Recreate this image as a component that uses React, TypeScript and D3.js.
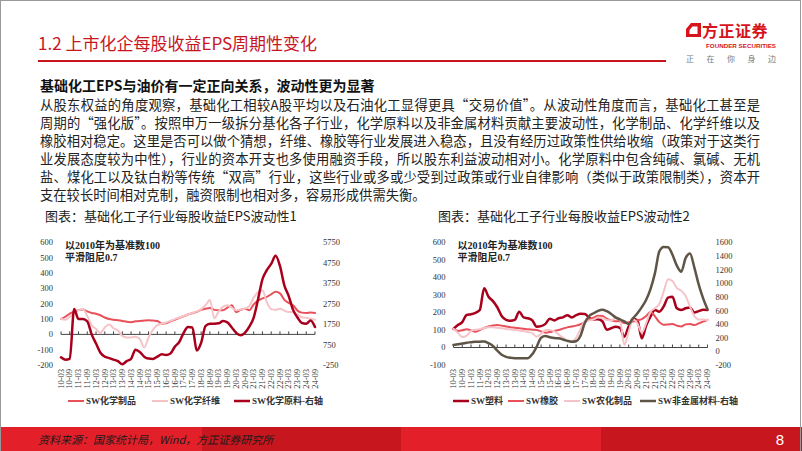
import React from 'react';
import * as d3 from 'd3';

// x tick labels (half-year), data is quarterly from 10-03 to 24-09
const xLabels = [
  '10-03', '10-09', '11-03', '11-09', '12-03', '12-09', '13-03', '13-09', '14-03', '14-09',
  '15-03', '15-09', '16-03', '16-09', '17-03', '17-09', '18-03', '18-09', '19-03', '19-09',
  '20-03', '20-09', '21-03', '21-09', '22-03', '22-09', '23-03', '23-09', '24-03', '24-09',
];

// chart 1
const chemProducts = [
  100, 115, 135, 148, 160, 162, 150, 140, 135, 125,
  110, 100, 95, 92, 88, 82, 80, 85, 88, 90,
  92, 90, 88, 70, 72, 85, 95, 108, 118, 130,
  138, 148, 160, 168, 172, 160, 157, 157, 175, 190,
  145, 160, 168, 158, 195, 220, 235, 245, 262, 278,
  268, 225, 205, 190, 155, 142, 140, 143, 140,
];
const chemFiber = [
  100, 95, 115, 140, 158, 165, 120, 60, 35, 10,
  45, 65, 40, 25, -10, -20, -20, -15, -30, -85,
  -20, 30, 60, 70, 78, 88, 100, 110, 120, 130,
  140, 150, 165, 190, 225, 105, 150, 180, 190, 175,
  158, 162, 168, 185, 240, 275, 288, 210, 165, 160,
  168, 155, 146, 146, 130, 112, 108, 102, 96,
];
const chemRaw = [
  125, 10, 50, 2490, 2000, 2000, 1890, 1250, 800, 350,
  160, 90, 10, -60, -210, -60, 50, 500, 390, 160,
  65, 50, 160, 275, 240, 310, 650, 875, 1325, 1610,
  1590, 460, 840, 1660, 1775, 1775, 1790, 1900, 1835, 1590,
  1325, 1210, 1325, 1625, 2075, 2975, 3950, 4400, 4700, 5100,
  4600, 3650, 3125, 2450, 2075, 1810, 1775, 1925, 1610,
];

// chart 2
const plastics = [
  106, 128, 145, 186, 190, 198, 214, 338, 290, 265,
  230, 180, 158, 153, 158, 205, 172, 167, 155, 119,
  122, 135, 165, 155, 167, 172, 185, 172, 185, 193,
  192, 170, 160, 162, 150, 102, 110, 118, 112, 62,
  120, 165, 155, 52, 125, 178, 214, 205, 235, 285,
  290, 224, 214, 224, 229, 200, 208, 216, 214,
];
const rubber = [
  106, 95, 98, 105, 98, 90, 100, 112, 120, 126,
  129, 125, 120, 116, 113, 110, 107, 104, 102, 100,
  92, 85, 88, 95, 100, 108, 115, 120, 125, 133,
  145, 160, 170, 182, 180, 165, 155, 150, 150, 140,
  145, 148, 155, 162, 180, 205, 178, 145, 130, 132,
  134, 125, 120, 132, 135, 128, 138, 148, 158,
];
const agroChem = [
  106, 85, 60, 68, 95, 102, 105, 112, 116, 115,
  113, 110, 106, 103, 100, 97, 94, 88, 82, 62,
  78, 100, 100, 92, 75, 55, 40, 33, 55, 105,
  150, 155, 160, 172, 170, 157, 155, 167, 160, 15,
  90, 160, 138, 85, 140, 205, 224, 250, 320, 390,
  380, 340, 325, 295, 235, 180, 160, 160, 157,
];
const nonMetal = [
  94, 105, 115, 128, 135, 143, 143, 145, 120, 80,
  10, -50, -80, -95, -101, -101, -101, -100, -40, 70,
  200, 225, 207, 195, 192, 175, 155, 143, 150, 230,
  420, 520, 560, 595, 612, 590, 550, 500, 470, 440,
  402, 486, 560, 650, 760, 920, 1150, 1470, 1535, 1530,
  1420, 1260, 1170, 1370, 1440, 1230, 980, 780, 620,
];

const leftTicks1 = [600, 500, 400, 300, 200, 100, 0, -100, -200];
const rightTicks1 = [5750, 4750, 3750, 2750, 1750, 750, -250];
const leftTicks2 = [600, 500, 400, 300, 200, 100, 0, -100];
const rightTicks2 = [1600, 1400, 1200, 1000, 800, 600, 400, 200, 0, -200];

const bodyLines = [
  '从股东权益的角度观察，基础化工相较A股平均以及石油化工显得更具“交易价值”。从波动性角度而言，基础化工甚至是',
  '周期的“强化版”。按照申万一级拆分基化各子行业，化学原料以及非金属材料贡献主要波动性，化学制品、化学纤维以及',
  '橡胶相对稳定。这里是否可以做个猜想，纤维、橡胶等行业发展进入稳态，且没有经历过政策性供给收缩（政策对于这类行',
  '业发展态度较为中性），行业的资本开支也多使用融资手段，所以股东利益波动相对小。化学原料中包含纯碱、氯碱、无机',
  '盐、煤化工以及钛白粉等传统“双高”行业，这些行业或多或少受到过政策或行业自律影响（类似于政策限制类），资本开',
  '支在较长时间相对克制，融资限制也相对多，容易形成供需失衡。',
];

const RED = '#C8161E';
const CJK = '"Noto Sans CJK SC", "Noto Sans", sans-serif';
const SERIF = '"Liberation Serif", "Noto Sans CJK SC", serif';

interface Series {
  name: string;
  values: number[];
  color: string;
  width: number;
  axis: 'left' | 'right';
}

interface ChartCfg {
  title: string;
  titleX: number;
  x0: number;
  x1: number;
  leftDomain: [number, number];
  rightDomain: [number, number];
  leftTicks: number[];
  rightTicks: number[];
  series: Series[];
  legendX: number[];
}

const YTOP = 242.5;
const YBOT = 365;

const Chart: React.FC<{ cfg: ChartCfg }> = ({ cfg }) => {
  const x = d3.scaleLinear().domain([0, xLabels.length - 1]).range([cfg.x0, cfg.x1]);
  const yL = d3.scaleLinear().domain(cfg.leftDomain).range([YBOT, YTOP]);
  const yR = d3.scaleLinear().domain(cfg.rightDomain).range([YBOT, YTOP]);
  const y0 = yL(0);

  const pathFor = (s: Series) => {
    const ys = s.axis === 'left' ? yL : yR;
    return d3.line<number>()
      .x((_, i) => x(i / 2))
      .y(v => ys(v))
      .curve(d3.curveMonotoneX)(s.values) || '';
  };

  return (
    <g>
      <text x={cfg.titleX} y={221} fontSize={13} fontFamily={CJK} fill="#222">{cfg.title}</text>
      <text x={cfg.x0 + 4} y={249} fontSize={10} fontWeight="bold" fontFamily={SERIF} fill="#222">以2010年为基准数100</text>
      <text x={cfg.x0 + 4} y={261} fontSize={10} fontWeight="bold" fontFamily={SERIF} fill="#222">平滑阻尼0.7</text>

      {cfg.leftTicks.map(t => (
        <text key={'l' + t} x={cfg.x0 - 8} y={yL(t)} dy="0.35em" textAnchor="end"
          fontSize={8.5} fontFamily={SERIF} fill="#333">{t}</text>
      ))}
      {cfg.rightTicks.map(t => (
        <text key={'r' + t} x={cfg.x1 + 8} y={yR(t)} dy="0.35em" textAnchor="start"
          fontSize={8.5} fontFamily={SERIF} fill="#333">{t}</text>
      ))}

      <line x1={cfg.x0} x2={cfg.x1} y1={y0} y2={y0} stroke="#444" strokeWidth={1} />
      {xLabels.map((lab, i) => (
        <g key={lab}>
          <line x1={x(i)} x2={x(i)} y1={y0 - 3} y2={y0} stroke="#444" strokeWidth={1} />
          <text transform={`translate(${x(i)},369) rotate(-90)`} dy="0.32em" textAnchor="end"
            fontSize={8.5} fontFamily={SERIF} fill="#333">{lab}</text>
        </g>
      ))}

      {cfg.series.map(s => (
        <path key={s.name} d={pathFor(s)} fill="none" stroke={s.color} strokeWidth={s.width}
          strokeLinejoin="round" strokeLinecap="round" />
      ))}

      {cfg.series.map((s, i) => (
        <g key={'lg' + s.name}>
          <line x1={cfg.legendX[i]} x2={cfg.legendX[i] + 16} y1={401} y2={401} stroke={s.color} strokeWidth={s.width} />
          <text x={cfg.legendX[i] + 18} y={401} dy="0.35em" fontSize={9} fontWeight="bold" fontFamily={SERIF} fill="#333">{s.name}</text>
        </g>
      ))}
    </g>
  );
};

const chart1: ChartCfg = {
  title: '图表：基础化工子行业每股收益EPS波动性1',
  titleX: 45,
  x0: 61,
  x1: 315,
  leftDomain: [-200, 600],
  rightDomain: [-250, 5750],
  leftTicks: leftTicks1,
  rightTicks: rightTicks1,
  series: [
    { name: 'SW化学制品', values: chemProducts, color: '#E8505A', width: 2, axis: 'left' },
    { name: 'SW化学纤维', values: chemFiber, color: '#F5C3C8', width: 2, axis: 'left' },
    { name: 'SW化学原料-右轴', values: chemRaw, color: '#A8001C', width: 2.5, axis: 'right' },
  ],
  legendX: [68, 152, 234],
};

const chart2: ChartCfg = {
  title: '图表：基础化工子行业每股收益EPS波动性2',
  titleX: 438,
  x0: 453.5,
  x1: 707.5,
  leftDomain: [-100, 600],
  rightDomain: [-200, 1600],
  leftTicks: leftTicks2,
  rightTicks: rightTicks2,
  series: [
    { name: 'SW塑料', values: plastics, color: '#A8001C', width: 2.5, axis: 'left' },
    { name: 'SW橡胶', values: rubber, color: '#E8505A', width: 2, axis: 'left' },
    { name: 'SW农化制品', values: agroChem, color: '#F5C3C8', width: 2, axis: 'left' },
    { name: 'SW非金属材料-右轴', values: nonMetal, color: '#5E5546', width: 2.5, axis: 'right' },
  ],
  legendX: [453, 508, 564, 640],
};

export default function App() {
  return (
    <svg width={802} height={451} style={{ position: 'absolute', left: 0, top: 0, background: '#fff' }}>
      <rect x={0} y={0} width={802} height={451} fill="#fff" />

      {/* header */}
      <text x={38} y={50} fontSize={17} fontFamily={CJK} fill={RED}>1.2 上市化企每股收益EPS周期性变化</text>
      <line x1={38} x2={666} y1={61} y2={61} stroke={RED} strokeWidth={2} />

      {/* logo */}
      <path d="M686,37 L686,29 L691,23 L701,23 L701,37 Z" fill="#D7141C" />
      <path d="M689.5,34 L689.5,30 L692.5,26.5 L697.5,26.5 L697.5,34 Z" fill="#fff" />
      <text x={702} y={37} fontSize={16} fontWeight="bold" fontFamily={CJK} fill="#D7141C" letterSpacing={0.5}>方正证券</text>
      <text x={706} y={47.5} fontSize={6} fontWeight="bold" fontFamily='"Liberation Sans", sans-serif' fill="#D7141C" textLength={70} lengthAdjust="spacingAndGlyphs">FOUNDER SECURITIES</text>
      <text x={686} y={62} fontSize={8} fontFamily={CJK} fill="#777" textLength={90} lengthAdjust="spacing">正在你身边</text>

      {/* body text */}
      <text x={40} y={91} fontSize={14} fontWeight="bold" fontFamily={CJK} fill="#111">基础化工EPS与油价有一定正向关系，波动性更为显著</text>
      {bodyLines.map((ln, i) => (
        <text key={i} x={40} y={110 + i * 18} fontSize={13.3} fontFamily={CJK} fill="#222"
          {...(i < bodyLines.length - 1 ? { textLength: 720, lengthAdjust: 'spacing' } : {})}>{ln}</text>
      ))}

      <Chart cfg={chart1} />
      <Chart cfg={chart2} />

      {/* footer */}
      <rect x={0} y={427} width={202} height={24} fill="#E3202A" />
      <rect x={202} y={427} width={199} height={24} fill="#C8161E" />
      <rect x={401} y={427} width={200} height={24} fill="#E3202A" />
      <rect x={601} y={427} width={201} height={24} fill="#C8161E" />
      <text x={38} y={444} fontSize={11} fontStyle="italic" fontFamily={CJK} fill="#1a1a1a">资料来源：国家统计局，Wind，方正证券研究所</text>
      <text x={780} y={445} fontSize={15} fontFamily='"Liberation Sans", sans-serif' fill="#fff" textAnchor="middle">8</text>

      <rect x={0.5} y={0.5} width={800} height={451} fill="none" stroke="#999" strokeWidth={1} />
    </svg>
  );
}
